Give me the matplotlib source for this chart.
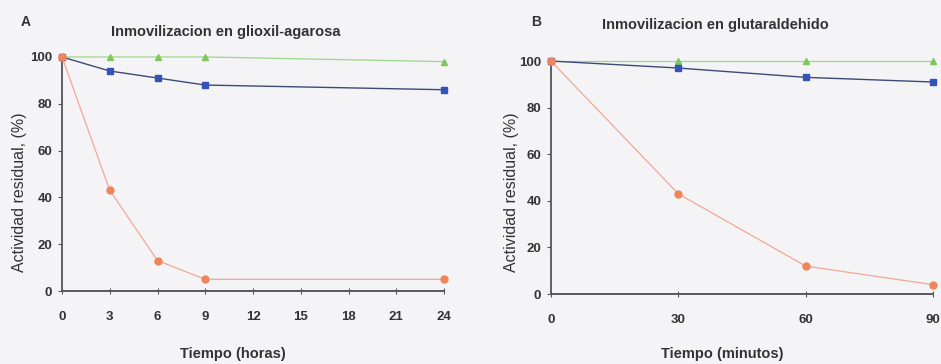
import matplotlib
matplotlib.use('Agg')
import matplotlib.pyplot as plt

plt.rcParams['font.family'] = ['Liberation Sans Narrow', 'Liberation Sans', 'DejaVu Sans']

# Panel A: glioxil-agarosa (hours)
horasA = [0, 3, 6, 9, 24]
verdeA = [100, 100, 100, 100, 98]
azulA = [100, 94, 91, 88, 86]
naranjaA = [100, 43, 13, 5, 5]
ceroA = [0, 0, 0, 0, 0]

# Panel B: glutaraldehido (minutes)
minB = [0, 30, 60, 90]
verdeB = [100, 100, 100, 100]
azulB = [100, 97, 93, 91]
naranjaB = [100, 43, 12, 4]
ceroB = [0, 0, 0, 0]

bg = '#f4f4f6'
W, H = 941, 364
fig = plt.figure(figsize=(9.41, 3.64), dpi=100, facecolor=bg)

axA = fig.add_axes([0.0659, 0.2005, 0.406, 0.643])
axB = fig.add_axes([0.5855, 0.1923, 0.406, 0.640])


def dibujar(ax, x, verde, azul, naranja, cero, xticks):
    ax.set_facecolor(bg)
    ax.plot(x, cero, color='#9a7ae0', lw=1.2, clip_on=False, zorder=2)
    ax.plot(x, verde, color='#9ed68a', lw=0.9, marker='^', ms=5,
            mfc='#7cc85a', mec='#7cc85a', clip_on=False, zorder=3)
    ax.plot(x, azul, color='#3c4a78', lw=1.0, marker='s', ms=5,
            mfc='#3452b8', mec='#3452b8', clip_on=False, zorder=4)
    ax.plot(x, naranja, color='#f2a894', lw=0.9, marker='o', ms=5,
            mfc='#f0845a', mec='#f0845a', clip_on=False, zorder=4)
    ax.set_xlim(xticks[0], xticks[-1])
    ax.set_ylim(0, 100)
    ax.set_xticks(xticks)
    ax.set_yticks([0, 20, 40, 60, 80, 100])
    for s in ['top', 'right']:
        ax.spines[s].set_visible(False)
    for s in ['left', 'bottom']:
        ax.spines[s].set_color('#555555')
        ax.spines[s].set_linewidth(1.3)
    ax.tick_params(axis='y', direction='out', length=3, color='#555555',
                   labelsize=9.5, pad=4)
    ax.tick_params(axis='x', direction='inout', length=5, color='#555555',
                   labelsize=9.5, pad=12)
    for lab in ax.get_xticklabels() + ax.get_yticklabels():
        lab.set_fontweight('bold')
        lab.set_color('#333333')


dibujar(axA, horasA, verdeA, azulA, naranjaA, ceroA,
        [0, 3, 6, 9, 12, 15, 18, 21, 24])
dibujar(axB, minB, verdeB, azulB, naranjaB, ceroB, [0, 30, 60, 90])


def texto(px, py, s, **kw):
    fig.text(px / W, 1 - py / H, s, color='#333333', ha='center', va='center', **kw)


texto(226, 32, 'Inmovilizacion en glioxil-agarosa', fontsize=10.5, fontweight='bold')
texto(715, 25, 'Inmovilizacion en glutaraldehido', fontsize=10.5, fontweight='bold')
texto(26, 22, 'A', fontsize=10, fontweight='bold')
texto(536, 22, 'B', fontsize=10, fontweight='bold')
texto(233, 354, 'Tiempo (horas)', fontsize=10.5, fontweight='bold')
texto(722, 354, 'Tiempo (minutos)', fontsize=10.5, fontweight='bold')
texto(20, 192, 'Actividad residual, (%)', fontsize=11.5, rotation=90)
texto(512, 192, 'Actividad residual, (%)', fontsize=11.5, rotation=90)

fig.savefig('out.png', dpi=100, facecolor=bg)
